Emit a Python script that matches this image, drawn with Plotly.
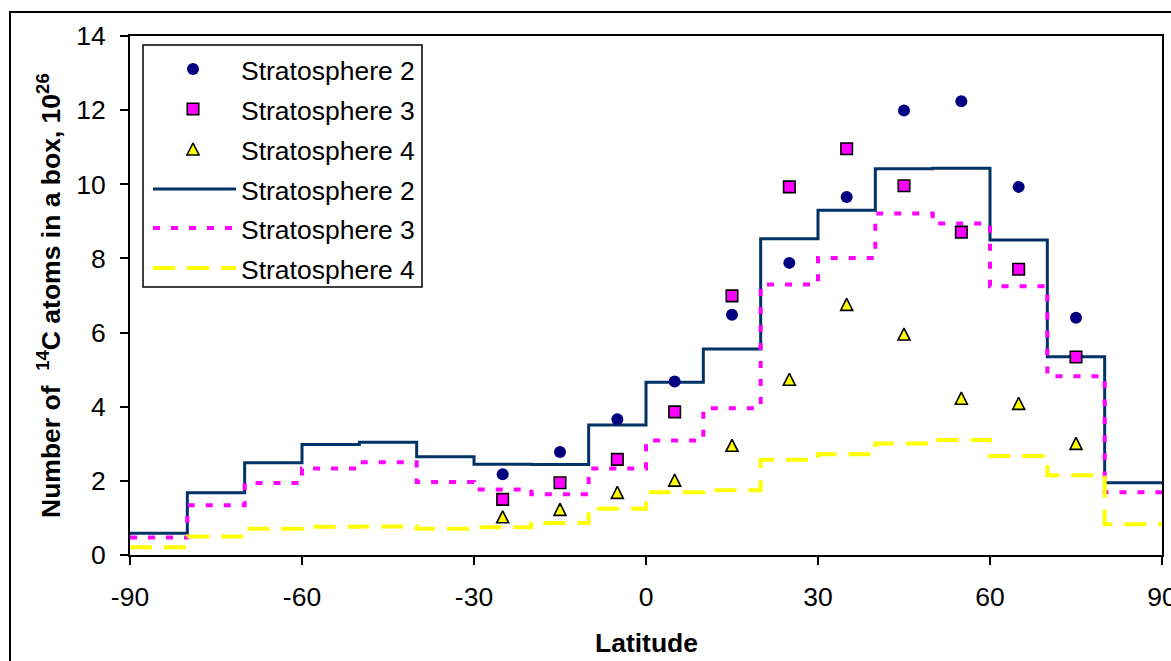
import plotly.graph_objects as go

# ---- data ---------------------------------------------------------------
# 10-degree latitude boxes, edges from -90 to 90
box_edges = [-90, -80, -70, -60, -50, -40, -30, -20, -10, 0,
             10, 20, 30, 40, 50, 60, 70, 80, 90]

# modelled 14C inventory per box (10^26 atoms), step curves
model_strat2 = [0.59, 1.68, 2.49, 2.98, 3.04, 2.65, 2.45, 2.44, 3.51,
                4.66, 5.56, 8.53, 9.30, 10.42, 10.43, 8.50, 5.35, 1.95]
model_strat3 = [0.47, 1.34, 1.94, 2.33, 2.50, 1.97, 1.77, 1.64, 2.33,
                3.09, 3.96, 7.30, 8.01, 9.21, 8.94, 7.25, 4.82, 1.69]
model_strat4 = [0.21, 0.50, 0.71, 0.76, 0.77, 0.71, 0.75, 0.86, 1.25,
                1.69, 1.75, 2.57, 2.72, 3.01, 3.10, 2.67, 2.15, 0.83]

# observations at box centres
obs_lat = [-25, -15, -5, 5, 15, 25, 35, 45, 55, 65, 75]
obs_strat2 = [2.18, 2.78, 3.66, 4.68, 6.48, 7.88, 9.66, 11.99, 12.24, 9.93, 6.40]
obs_strat3 = [1.50, 1.95, 2.58, 3.86, 6.99, 9.93, 10.96, 9.96, 8.71, 7.71, 5.34]
obs_strat4 = [1.03, 1.23, 1.69, 2.02, 2.96, 4.74, 6.76, 5.96, 4.23, 4.09, 3.01]

series_names = ["Stratosphere 2", "Stratosphere 3", "Stratosphere 4"]

x_ticks = [-90, -60, -30, 0, 30, 60, 90]
x_tick_labels = ["-90", "-60", "-30", "0", "30", "60", "90"]
y_ticks = [0, 2, 4, 6, 8, 10, 12, 14]
y_range = [0, 14]

# ---- styles ---------------------------------------------------------------
FONT = "Liberation Sans, Arial, sans-serif"
FS = 26.5
NAVY_LINE = "#003366"
NAVY_DOT = "#000080"
MAGENTA = "#FF00FF"
YELLOW = "#FFFF00"

W, H = 1171, 661
PL, PR, PT, PB = 130, 1162, 36, 555   # plot-area pixel box

# the arrow-up glyph hangs below its anchor point, so the triangle series
# sits on a twin y axis lifted by half the glyph height to centre it
TRI_SIZE = 12
tri_lift = (TRI_SIZE / 2) * (y_range[1] - y_range[0]) / (PB - PT)


def fx(p):
    """pixel column -> paper x"""
    return (p - PL) / (PR - PL)


def fy(p):
    """pixel row -> paper y"""
    return (PB - p) / (PB - PT)


line_styles = [
    dict(color=NAVY_LINE, width=3, dash="solid"),
    dict(color=MAGENTA, width=4, dash="7px,11px"),
    dict(color=YELLOW, width=4, dash="22px,12px"),
]
marker_styles = [
    dict(symbol="circle", size=12, color=NAVY_DOT, line=dict(width=0)),
    dict(symbol="square", size=11.5, color=MAGENTA, line=dict(width=1.6, color="black")),
    dict(symbol="arrow-up", size=TRI_SIZE, color=YELLOW, line=dict(width=1.6, color="black")),
]
marker_axes = ["y", "y", "y3"]

fig = go.Figure()

# step curves
for vals, ls, name in zip([model_strat2, model_strat3, model_strat4], line_styles, series_names):
    fig.add_trace(go.Scatter(
        x=box_edges, y=vals + [vals[-1]], mode="lines", line_shape="hv",
        line=ls, name=name, showlegend=False, hoverinfo="skip"))

# observation markers
for vals, ms, ax, name in zip([obs_strat2, obs_strat3, obs_strat4], marker_styles,
                              marker_axes, series_names):
    fig.add_trace(go.Scatter(
        x=obs_lat, y=vals, yaxis=ax, mode="markers", marker=ms, name=name,
        showlegend=False, cliponaxis=False))

# ---- hand-built legend box (paper-space overlay axis) ---------------------
LEG_X0, LEG_X1, LEG_Y0, LEG_Y1 = 143, 422, 45, 287
row_y = [69, 109, 149, 189, 228, 268]
key_x0, key_x1, key_mid, text_x = 153, 236, 193, 239

shapes = [
    # outer chart frame
    dict(type="rect", xref="paper", yref="paper",
         x0=fx(10), x1=fx(1230), y0=fy(12), y1=fy(720),
         line=dict(color="black", width=2), layer="below"),
    # legend frame
    dict(type="rect", xref="paper", yref="paper",
         x0=fx(LEG_X0), x1=fx(LEG_X1), y0=fy(LEG_Y0), y1=fy(LEG_Y1),
         line=dict(color="black", width=1.5), fillcolor="white", layer="below"),
]
annotations = []
legend_rows = [(n, "marker", i) for i, n in enumerate(series_names)] + \
              [(n, "line", i) for i, n in enumerate(series_names)]
for (name, kind, i), ry in zip(legend_rows, row_y):
    if kind == "line":
        shapes.append(dict(type="line", xref="paper", yref="paper",
                           x0=fx(key_x0), x1=fx(key_x1), y0=fy(ry), y1=fy(ry),
                           line=line_styles[i], layer="above"))
    else:
        lift = TRI_SIZE / 2 if marker_styles[i]["symbol"] == "arrow-up" else 0
        fig.add_trace(go.Scatter(
            x=[fx(key_mid)], y=[fy(ry - lift)], xaxis="x2", yaxis="y2",
            mode="markers", marker=marker_styles[i], showlegend=False,
            hoverinfo="skip", cliponaxis=False))
    annotations.append(dict(
        xref="paper", yref="paper", x=fx(text_x), y=fy(ry + 2),
        xanchor="left", yanchor="middle", showarrow=False, text=name,
        font=dict(family=FONT, size=FS, color="black")))

# axis titles
annotations.append(dict(
    xref="paper", yref="paper", x=fx(646), y=fy(643), xanchor="center",
    yanchor="middle", showarrow=False, text="<b>Latitude</b>",
    font=dict(family=FONT, size=FS, color="black")))
annotations.append(dict(
    xref="paper", yref="paper", x=fx(49), y=fy(296), xanchor="center",
    yanchor="middle", showarrow=False, textangle=-90,
    text="<b>Number of  <sup>14</sup>C atoms in a box, 10<sup>26</sup></b>",
    font=dict(family=FONT, size=FS, color="black")))

axis_common = dict(showgrid=False, zeroline=False, showline=True, mirror=True,
                   linecolor="black", linewidth=2, ticks="outside", ticklen=8,
                   tickwidth=1.5, tickcolor="black", ticklabeloverflow="allow",
                   tickfont=dict(family=FONT, size=FS, color="black"))

fig.update_layout(
    width=W, height=H,
    margin=dict(l=PL, r=W - PR, t=PT, b=H - PB, autoexpand=False),
    paper_bgcolor="white", plot_bgcolor="white",
    showlegend=False,
    xaxis=dict(range=[-90, 90], tickvals=x_ticks, ticktext=x_tick_labels,
               ticklabelstandoff=9, automargin=False, **axis_common),
    yaxis=dict(range=y_range, tickvals=y_ticks, ticklabelstandoff=9,
               automargin=False, **axis_common),
    xaxis2=dict(overlaying="x", range=[0, 1], visible=False, fixedrange=True),
    yaxis2=dict(overlaying="y", range=[0, 1], visible=False, fixedrange=True),
    yaxis3=dict(overlaying="y", range=[y_range[0] - tri_lift, y_range[1] - tri_lift],
                visible=False, fixedrange=True),
    shapes=shapes, annotations=annotations,
    font=dict(family=FONT, size=FS, color="black"),
)

fig.write_html("out.html")
